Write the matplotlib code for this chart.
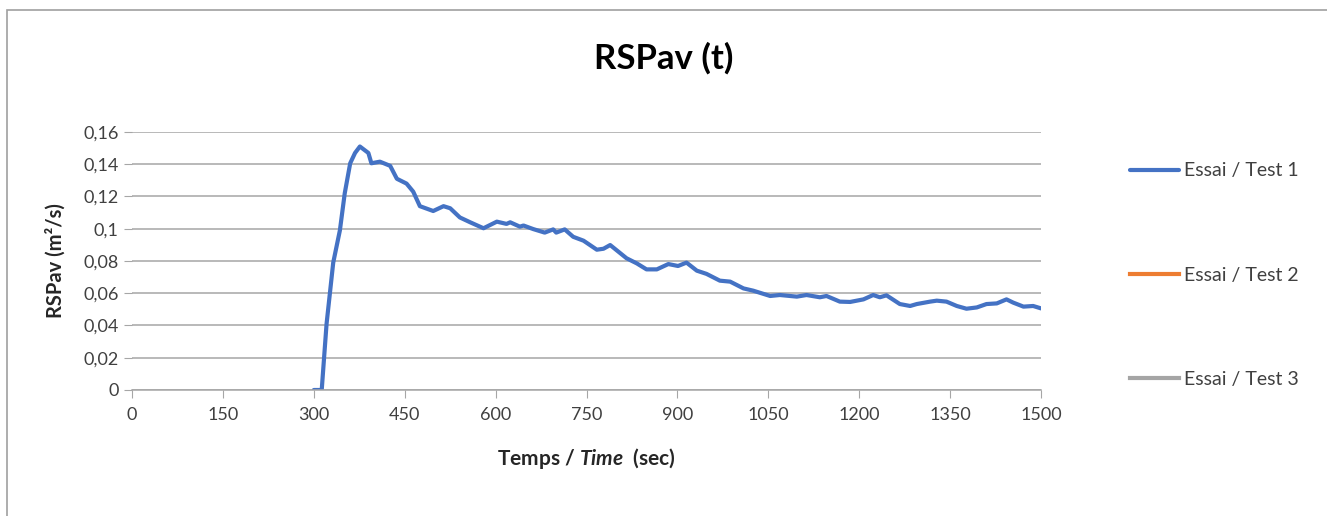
import matplotlib.pyplot as plt
from matplotlib.ticker import FuncFormatter, MultipleLocator
from matplotlib.patches import Rectangle

plt.rcParams['font.family'] = ['Lato', 'DejaVu Sans']
plt.rcParams['mathtext.fontset'] = 'custom'
plt.rcParams['mathtext.bfit'] = 'Lato:italic:bold'

# test 1
time1 = [300, 313, 321, 332, 343, 351, 360, 368, 376, 390, 395, 409, 426, 437, 453,
         464, 475, 497, 514, 525, 541, 558, 580, 602, 618, 624, 640, 646, 662, 681,
         695, 700, 714, 728, 745, 767, 778, 789, 816, 833, 849, 866, 885, 901, 915,
         932, 948, 970, 987, 1009, 1025, 1053, 1069, 1097, 1113, 1135, 1146, 1168,
         1185, 1207, 1223, 1234, 1245, 1267, 1284, 1295, 1317, 1328, 1344, 1361,
         1377, 1394, 1410, 1427, 1443, 1454, 1471, 1487, 1500]
rspav1 = [0, 0, 0.041, 0.079, 0.099, 0.122, 0.1406, 0.147, 0.151, 0.147, 0.1406,
          0.1416, 0.139, 0.131, 0.128, 0.123, 0.114, 0.111, 0.114, 0.1127, 0.107,
          0.104, 0.1003, 0.1044, 0.103, 0.104, 0.1013, 0.102, 0.0998, 0.0976, 0.0996,
          0.0976, 0.0996, 0.095, 0.0926, 0.0870, 0.0876, 0.0899, 0.0817, 0.0785,
          0.0748, 0.0748, 0.0781, 0.0769, 0.079, 0.074, 0.072, 0.0678, 0.0672, 0.063,
          0.0616, 0.0583, 0.0589, 0.0579, 0.0589, 0.0575, 0.0583, 0.0548, 0.0546,
          0.0562, 0.0589, 0.0575, 0.0587, 0.0533, 0.0521, 0.0533, 0.0548, 0.0554,
          0.0548, 0.0521, 0.0504, 0.0512, 0.0533, 0.0537, 0.0562, 0.0542, 0.0517,
          0.0521, 0.0506]
# tests 2 and 3 have no data
time2, rspav2 = [], []
time3, rspav3 = [], []

labels = ["Essai / Test 1", "Essai / Test 2", "Essai / Test 3"]
colors = ["#4472C4", "#ED7D31", "#A5A5A5"]

fig = plt.figure(figsize=(13.27, 5.16), dpi=100)
ax = fig.add_axes([0.0995, 0.2442, 0.685, 0.50])

l1, = ax.plot(time1, rspav1, color=colors[0], lw=3.0, solid_capstyle='round')
l2, = ax.plot(time2, rspav2, color=colors[1], lw=3.0)
l3, = ax.plot(time3, rspav3, color=colors[2], lw=3.0)

ax.set_xlim(0, 1500)
ax.set_ylim(0, 0.16)
ax.xaxis.set_major_locator(MultipleLocator(150))
ax.yaxis.set_major_locator(MultipleLocator(0.02))
ax.yaxis.set_major_formatter(FuncFormatter(lambda v, p: ('%g' % round(v, 2)).replace('.', ',')))
ax.grid(axis='y', color='#a6a6a6', lw=1.1)
ax.set_axisbelow(True)
for s in ['top', 'right', 'left']:
    ax.spines[s].set_visible(False)
ax.spines['bottom'].set_color('#a6a6a6')
ax.spines['bottom'].set_linewidth(1.1)
ax.tick_params(axis='x', direction='out', length=6, color='#a6a6a6', labelsize=13,
               labelcolor='#404040', pad=6)
ax.tick_params(axis='y', length=6, color='#a6a6a6', labelsize=13, labelcolor='#404040')

ax.set_xlabel(r"Temps / $\mathbfit{Time}$  (sec)", fontsize=15, fontweight='bold',
              color='#262626', labelpad=17)
ax.set_ylabel("RSPav (m²/s)", fontsize=14.5, fontweight='bold', color='#262626', labelpad=13)
fig.text(0.5, 0.888, "RSPav (t)", ha='center', va='center', fontsize=25,
         fontweight='bold', color='black')

fig.legend([l1, l2, l3], labels, loc='upper left', bbox_to_anchor=(0.838, 0.719),
           frameon=False, fontsize=14, labelspacing=4.48, handlelength=2.55,
           handletextpad=0.25, labelcolor='#404040')

fig.patches.append(Rectangle((7 / 1327, -0.1), 1.2, 1.1 - 10 / 516 + 0.0,
                             transform=fig.transFigure, fill=False,
                             edgecolor='#a0a0a0', lw=1.2))

fig.savefig("out.png", dpi=100)
